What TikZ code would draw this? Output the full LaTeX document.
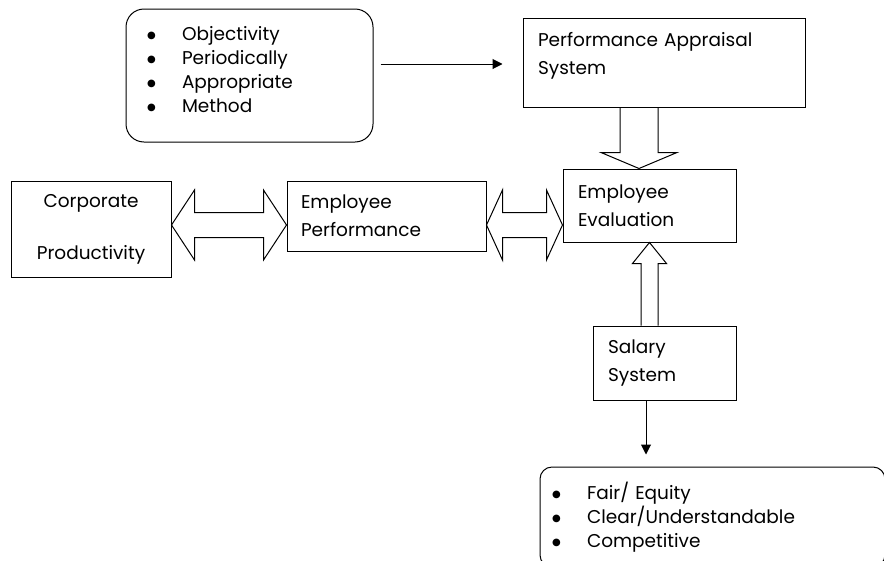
\documentclass[tikz,border=0pt]{standalone}
\usepackage{fontspec}
\setmainfont{Poppins}
\newfontfamily\symfont{DejaVu Sans}
\usetikzlibrary{arrows.meta,calc}

\tikzset{
  box/.style={draw, line width=1pt, align=left, inner ysep=0pt},
  list/.style={box, rounded corners=18pt, inner xsep=21pt},
  arrow/.style={-{Triangle[length=10pt,width=10pt]}, line width=1pt},
  fat/.style={draw, line width=1pt, line join=miter},
}
\newcommand{\itm}{\makebox[35pt][l]{\raisebox{1.8pt}{\symfont\fontsize{10}{10}\selectfont ●}}}
% hollow two-headed block arrow: left tip, right tip, head length
\newcommand{\hollowdbl}[3]{%
  \draw[fat] (#1) -- ++(#3,-35) -- ++(0,22.5) -- ($(#2)+(-#3,-12.5)$)
    -- ++(0,-22.5) -- (#2) -- ++(-#3,35) -- ++(0,-22.5)
    -- ($(#1)+(#3,12.5)$) -- ++(0,22.5) -- cycle;}

\begin{document}
\begin{tikzpicture}[x=1pt, y=-1pt, font=\fontsize{18.5}{28}\selectfont]
\clip (0,0) rectangle (884,560);

% boxes
\node[list, minimum width=247pt, minimum height=133pt, text width=205pt,
  text depth=84pt, font=\fontsize{18.5}{24}\selectfont] (crit) at (249.5,75.5)
  {\itm Objectivity\\
   \itm Periodically\\
   \itm Appropriate\\
   \itm Method};
\node[box, minimum width=282pt, minimum height=89pt, text width=252pt,
  inner xsep=15pt, text depth=47pt] (pas) at (664,62.5)
  {Performance Appraisal\\System};
\node[box, minimum width=173pt, minimum height=73pt, text width=143pt,
  inner xsep=15pt] (eval) at (649.5,205.5) {Employee\\Evaluation};
\node[box, align=center, minimum width=160pt, minimum height=96pt,
  text width=140pt, inner xsep=10pt] (corp) at (91,229)
  {Corporate\\[24pt]Productivity};
\node[box, minimum width=199pt, minimum height=70pt, text width=171pt,
  inner xsep=14pt] (perf) at (386.5,216) {Employee\\Performance};
\node[box, minimum width=143pt, minimum height=74pt, text width=113pt,
  inner xsep=15pt] (salary) at (664.5,363) {Salary\\System};
\node[list, rounded corners=12pt, inner xsep=12pt, minimum width=345pt,
  minimum height=100pt, text width=321pt,
  font=\fontsize{18.5}{24}\selectfont] (req) at (712.5,517)
  {\itm Fair/ Equity\\
   \itm Clear/Understandable\\
   \itm Competitive};

% thin arrows
\draw[arrow] ([xshift=7pt,yshift=11.5pt]crit.east) coordinate (a1)
  -- ($(a1 -| pas.west)+(-20,0)$);
\draw[arrow] ([xshift=-18.5pt]salary.south) coordinate (s1)
  -- ($(s1 |- req.north)+(0,-12)$);

% block arrow down
\coordinate (d1) at ([xshift=-25pt]pas.south);
\coordinate (d2) at (d1 |- eval.north);
\draw[fat] ($(d1)+(-19,0)$) -- ($(d2)+(-19,-16)$) -- ++(-19,0) -- (d2)
  -- ($(d2)+(38,-16)$) -- ++(-19,0) -- ($(d1)+(19,0)$);

% block arrow up
\coordinate (u2) at (eval.south);
\coordinate (u1) at (eval.south |- salary.north);
\draw[fat] ($(u1)+(-8.5,0)$) -- ($(u2)+(-8.5,21)$) -- ++(-8.5,0) -- (u2)
  -- ($(u2)+(17,21)$) -- ++(-8.5,0) -- ($(u1)+(8.5,0)$);

% two-headed block arrows
\coordinate (h1) at ([yshift=4pt]corp.east);
\coordinate (h2) at (h1 -| perf.west);
\hollowdbl{h1}{h2}{23}
\coordinate (h3) at (h1 -| perf.east);
\coordinate (h4) at (h1 -| eval.west);
\hollowdbl{h3}{h4}{16}
\end{tikzpicture}
\end{document}
